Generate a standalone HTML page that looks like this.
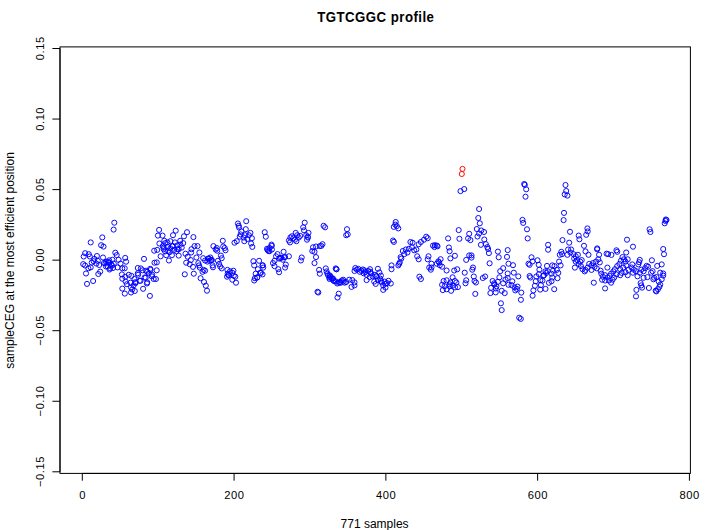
<!DOCTYPE html><html><head><meta charset="utf-8"><style>html,body{margin:0;padding:0;background:#fff;width:710px;height:530px;overflow:hidden}svg{display:block}text{font-family:"Liberation Sans",sans-serif;fill:#000}</style></head><body>
<svg width="710" height="530" viewBox="0 0 710 530">
<text transform="translate(375.8 21.9) scale(0.92 1)" font-size="14.4" font-weight="bold" letter-spacing="0.5" text-anchor="middle">TGTCGGC profile</text>
<rect x="60" y="46.9" width="630.4" height="426.5" fill="none" stroke="#000" stroke-width="1"/>
<path d="M60 48.50V471.80M52.4 48.50H60M52.4 119.05H60M52.4 189.60H60M52.4 260.15H60M52.4 330.70H60M52.4 401.25H60M52.4 471.80H60M82.30 473.4H689.42M82.30 473.4V480.7M234.08 473.4V480.7M385.86 473.4V480.7M537.64 473.4V480.7M689.42 473.4V480.7" stroke="#000" stroke-width="1" fill="none"/>
<text transform="translate(43.6 48.25) rotate(-90)" font-size="11.2" letter-spacing="0.5" text-anchor="middle">0.15</text>
<text transform="translate(43.6 118.80) rotate(-90)" font-size="11.2" letter-spacing="0.5" text-anchor="middle">0.10</text>
<text transform="translate(43.6 189.35) rotate(-90)" font-size="11.2" letter-spacing="0.5" text-anchor="middle">0.05</text>
<text transform="translate(43.6 259.90) rotate(-90)" font-size="11.2" letter-spacing="0.5" text-anchor="middle">0.00</text>
<text transform="translate(43.6 330.45) rotate(-90)" font-size="11.2" letter-spacing="0.5" text-anchor="middle">−0.05</text>
<text transform="translate(43.6 401.00) rotate(-90)" font-size="11.2" letter-spacing="0.5" text-anchor="middle">−0.10</text>
<text transform="translate(43.6 471.55) rotate(-90)" font-size="11.2" letter-spacing="0.5" text-anchor="middle">−0.15</text>
<text x="82.55" y="499" font-size="11.2" letter-spacing="0.5" text-anchor="middle">0</text>
<text x="234.33" y="499" font-size="11.2" letter-spacing="0.5" text-anchor="middle">200</text>
<text x="386.11" y="499" font-size="11.2" letter-spacing="0.5" text-anchor="middle">400</text>
<text x="537.89" y="499" font-size="11.2" letter-spacing="0.5" text-anchor="middle">600</text>
<text x="689.67" y="499" font-size="11.2" letter-spacing="0.5" text-anchor="middle">800</text>
<text x="374.6" y="528" font-size="12" text-anchor="middle">771 samples</text>
<text transform="translate(14 260.4) rotate(-90)" font-size="12" text-anchor="middle">sampleCEG at the most efficient position</text>
<path d="M114.3 222.7m-2.55 0a2.55 2.55 0 1 0 5.1 0a2.55 2.55 0 1 0 -5.1 0M113.6 229.6m-2.55 0a2.55 2.55 0 1 0 5.1 0a2.55 2.55 0 1 0 -5.1 0M102.3 237.4m-2.55 0a2.55 2.55 0 1 0 5.1 0a2.55 2.55 0 1 0 -5.1 0M90.7 242.4m-2.55 0a2.55 2.55 0 1 0 5.1 0a2.55 2.55 0 1 0 -5.1 0M101.1 245.2m-2.55 0a2.55 2.55 0 1 0 5.1 0a2.55 2.55 0 1 0 -5.1 0M103.5 246.6m-2.55 0a2.55 2.55 0 1 0 5.1 0a2.55 2.55 0 1 0 -5.1 0M85.1 253.2m-2.55 0a2.55 2.55 0 1 0 5.1 0a2.55 2.55 0 1 0 -5.1 0M83.7 256.5m-2.55 0a2.55 2.55 0 1 0 5.1 0a2.55 2.55 0 1 0 -5.1 0M88.8 254.2m-2.55 0a2.55 2.55 0 1 0 5.1 0a2.55 2.55 0 1 0 -5.1 0M89.8 256.5m-2.55 0a2.55 2.55 0 1 0 5.1 0a2.55 2.55 0 1 0 -5.1 0M96.9 256.0m-2.55 0a2.55 2.55 0 1 0 5.1 0a2.55 2.55 0 1 0 -5.1 0M94.5 258.9m-2.55 0a2.55 2.55 0 1 0 5.1 0a2.55 2.55 0 1 0 -5.1 0M93.6 261.2m-2.55 0a2.55 2.55 0 1 0 5.1 0a2.55 2.55 0 1 0 -5.1 0M103.0 257.5m-2.55 0a2.55 2.55 0 1 0 5.1 0a2.55 2.55 0 1 0 -5.1 0M115.3 252.7m-2.55 0a2.55 2.55 0 1 0 5.1 0a2.55 2.55 0 1 0 -5.1 0M116.7 255.1m-2.55 0a2.55 2.55 0 1 0 5.1 0a2.55 2.55 0 1 0 -5.1 0M112.4 259.8m-2.55 0a2.55 2.55 0 1 0 5.1 0a2.55 2.55 0 1 0 -5.1 0M109.1 260.3m-2.55 0a2.55 2.55 0 1 0 5.1 0a2.55 2.55 0 1 0 -5.1 0M83.2 264.1m-2.55 0a2.55 2.55 0 1 0 5.1 0a2.55 2.55 0 1 0 -5.1 0M85.1 265.5m-2.55 0a2.55 2.55 0 1 0 5.1 0a2.55 2.55 0 1 0 -5.1 0M88.4 268.3m-2.55 0a2.55 2.55 0 1 0 5.1 0a2.55 2.55 0 1 0 -5.1 0M90.7 267.4m-2.55 0a2.55 2.55 0 1 0 5.1 0a2.55 2.55 0 1 0 -5.1 0M91.7 262.6m-2.55 0a2.55 2.55 0 1 0 5.1 0a2.55 2.55 0 1 0 -5.1 0M96.4 263.6m-2.55 0a2.55 2.55 0 1 0 5.1 0a2.55 2.55 0 1 0 -5.1 0M99.2 265.0m-2.55 0a2.55 2.55 0 1 0 5.1 0a2.55 2.55 0 1 0 -5.1 0M97.8 260.8m-2.55 0a2.55 2.55 0 1 0 5.1 0a2.55 2.55 0 1 0 -5.1 0M86.0 273.5m-2.55 0a2.55 2.55 0 1 0 5.1 0a2.55 2.55 0 1 0 -5.1 0M100.2 271.6m-2.55 0a2.55 2.55 0 1 0 5.1 0a2.55 2.55 0 1 0 -5.1 0M98.3 274.0m-2.55 0a2.55 2.55 0 1 0 5.1 0a2.55 2.55 0 1 0 -5.1 0M105.4 263.6m-2.55 0a2.55 2.55 0 1 0 5.1 0a2.55 2.55 0 1 0 -5.1 0M107.7 266.4m-2.55 0a2.55 2.55 0 1 0 5.1 0a2.55 2.55 0 1 0 -5.1 0M110.1 268.3m-2.55 0a2.55 2.55 0 1 0 5.1 0a2.55 2.55 0 1 0 -5.1 0M112.0 265.5m-2.55 0a2.55 2.55 0 1 0 5.1 0a2.55 2.55 0 1 0 -5.1 0M113.8 263.6m-2.55 0a2.55 2.55 0 1 0 5.1 0a2.55 2.55 0 1 0 -5.1 0M109.1 262.6m-2.55 0a2.55 2.55 0 1 0 5.1 0a2.55 2.55 0 1 0 -5.1 0M106.3 261.7m-2.55 0a2.55 2.55 0 1 0 5.1 0a2.55 2.55 0 1 0 -5.1 0M118.6 259.8m-2.55 0a2.55 2.55 0 1 0 5.1 0a2.55 2.55 0 1 0 -5.1 0M120.5 263.6m-2.55 0a2.55 2.55 0 1 0 5.1 0a2.55 2.55 0 1 0 -5.1 0M117.6 267.4m-2.55 0a2.55 2.55 0 1 0 5.1 0a2.55 2.55 0 1 0 -5.1 0M122.3 268.3m-2.55 0a2.55 2.55 0 1 0 5.1 0a2.55 2.55 0 1 0 -5.1 0M125.2 257.9m-2.55 0a2.55 2.55 0 1 0 5.1 0a2.55 2.55 0 1 0 -5.1 0M126.1 261.7m-2.55 0a2.55 2.55 0 1 0 5.1 0a2.55 2.55 0 1 0 -5.1 0M124.7 268.3m-2.55 0a2.55 2.55 0 1 0 5.1 0a2.55 2.55 0 1 0 -5.1 0M121.9 274.4m-2.55 0a2.55 2.55 0 1 0 5.1 0a2.55 2.55 0 1 0 -5.1 0M122.3 278.7m-2.55 0a2.55 2.55 0 1 0 5.1 0a2.55 2.55 0 1 0 -5.1 0M125.2 276.8m-2.55 0a2.55 2.55 0 1 0 5.1 0a2.55 2.55 0 1 0 -5.1 0M125.6 281.5m-2.55 0a2.55 2.55 0 1 0 5.1 0a2.55 2.55 0 1 0 -5.1 0M87.0 283.9m-2.55 0a2.55 2.55 0 1 0 5.1 0a2.55 2.55 0 1 0 -5.1 0M93.1 281.0m-2.55 0a2.55 2.55 0 1 0 5.1 0a2.55 2.55 0 1 0 -5.1 0M122.3 288.6m-2.55 0a2.55 2.55 0 1 0 5.1 0a2.55 2.55 0 1 0 -5.1 0M144.0 258.9m-2.55 0a2.55 2.55 0 1 0 5.1 0a2.55 2.55 0 1 0 -5.1 0M159.1 229.9m-2.55 0a2.55 2.55 0 1 0 5.1 0a2.55 2.55 0 1 0 -5.1 0M157.9 235.6m-2.55 0a2.55 2.55 0 1 0 5.1 0a2.55 2.55 0 1 0 -5.1 0M162.5 235.6m-2.55 0a2.55 2.55 0 1 0 5.1 0a2.55 2.55 0 1 0 -5.1 0M164.3 240.8m-2.55 0a2.55 2.55 0 1 0 5.1 0a2.55 2.55 0 1 0 -5.1 0M159.4 243.5m-2.55 0a2.55 2.55 0 1 0 5.1 0a2.55 2.55 0 1 0 -5.1 0M154.2 250.7m-2.55 0a2.55 2.55 0 1 0 5.1 0a2.55 2.55 0 1 0 -5.1 0M157.2 249.9m-2.55 0a2.55 2.55 0 1 0 5.1 0a2.55 2.55 0 1 0 -5.1 0M160.6 256.3m-2.55 0a2.55 2.55 0 1 0 5.1 0a2.55 2.55 0 1 0 -5.1 0M168.9 260.5m-2.55 0a2.55 2.55 0 1 0 5.1 0a2.55 2.55 0 1 0 -5.1 0M178.7 255.6m-2.55 0a2.55 2.55 0 1 0 5.1 0a2.55 2.55 0 1 0 -5.1 0M175.7 230.7m-2.55 0a2.55 2.55 0 1 0 5.1 0a2.55 2.55 0 1 0 -5.1 0M173.0 235.2m-2.55 0a2.55 2.55 0 1 0 5.1 0a2.55 2.55 0 1 0 -5.1 0M170.4 241.2m-2.55 0a2.55 2.55 0 1 0 5.1 0a2.55 2.55 0 1 0 -5.1 0M172.6 246.1m-2.55 0a2.55 2.55 0 1 0 5.1 0a2.55 2.55 0 1 0 -5.1 0M167.4 246.9m-2.55 0a2.55 2.55 0 1 0 5.1 0a2.55 2.55 0 1 0 -5.1 0M165.1 251.4m-2.55 0a2.55 2.55 0 1 0 5.1 0a2.55 2.55 0 1 0 -5.1 0M169.6 252.2m-2.55 0a2.55 2.55 0 1 0 5.1 0a2.55 2.55 0 1 0 -5.1 0M174.2 249.9m-2.55 0a2.55 2.55 0 1 0 5.1 0a2.55 2.55 0 1 0 -5.1 0M180.2 240.8m-2.55 0a2.55 2.55 0 1 0 5.1 0a2.55 2.55 0 1 0 -5.1 0M183.2 243.1m-2.55 0a2.55 2.55 0 1 0 5.1 0a2.55 2.55 0 1 0 -5.1 0M181.7 247.6m-2.55 0a2.55 2.55 0 1 0 5.1 0a2.55 2.55 0 1 0 -5.1 0M177.2 245.4m-2.55 0a2.55 2.55 0 1 0 5.1 0a2.55 2.55 0 1 0 -5.1 0M184.0 236.3m-2.55 0a2.55 2.55 0 1 0 5.1 0a2.55 2.55 0 1 0 -5.1 0M187.0 232.2m-2.55 0a2.55 2.55 0 1 0 5.1 0a2.55 2.55 0 1 0 -5.1 0M185.5 253.7m-2.55 0a2.55 2.55 0 1 0 5.1 0a2.55 2.55 0 1 0 -5.1 0M187.7 256.7m-2.55 0a2.55 2.55 0 1 0 5.1 0a2.55 2.55 0 1 0 -5.1 0M186.2 262.7m-2.55 0a2.55 2.55 0 1 0 5.1 0a2.55 2.55 0 1 0 -5.1 0M154.5 262.7m-2.55 0a2.55 2.55 0 1 0 5.1 0a2.55 2.55 0 1 0 -5.1 0M156.8 262.4m-2.55 0a2.55 2.55 0 1 0 5.1 0a2.55 2.55 0 1 0 -5.1 0M166.2 255.2m-2.55 0a2.55 2.55 0 1 0 5.1 0a2.55 2.55 0 1 0 -5.1 0M171.9 255.2m-2.55 0a2.55 2.55 0 1 0 5.1 0a2.55 2.55 0 1 0 -5.1 0M162.8 246.1m-2.55 0a2.55 2.55 0 1 0 5.1 0a2.55 2.55 0 1 0 -5.1 0M178.7 249.2m-2.55 0a2.55 2.55 0 1 0 5.1 0a2.55 2.55 0 1 0 -5.1 0M167.4 242.4m-2.55 0a2.55 2.55 0 1 0 5.1 0a2.55 2.55 0 1 0 -5.1 0M174.9 242.4m-2.55 0a2.55 2.55 0 1 0 5.1 0a2.55 2.55 0 1 0 -5.1 0M170.4 248.4m-2.55 0a2.55 2.55 0 1 0 5.1 0a2.55 2.55 0 1 0 -5.1 0M176.4 251.4m-2.55 0a2.55 2.55 0 1 0 5.1 0a2.55 2.55 0 1 0 -5.1 0M163.6 249.2m-2.55 0a2.55 2.55 0 1 0 5.1 0a2.55 2.55 0 1 0 -5.1 0M137.8 268.0m-2.55 0a2.55 2.55 0 1 0 5.1 0a2.55 2.55 0 1 0 -5.1 0M140.8 268.4m-2.55 0a2.55 2.55 0 1 0 5.1 0a2.55 2.55 0 1 0 -5.1 0M146.1 270.7m-2.55 0a2.55 2.55 0 1 0 5.1 0a2.55 2.55 0 1 0 -5.1 0M150.6 269.9m-2.55 0a2.55 2.55 0 1 0 5.1 0a2.55 2.55 0 1 0 -5.1 0M148.8 273.3m-2.55 0a2.55 2.55 0 1 0 5.1 0a2.55 2.55 0 1 0 -5.1 0M156.7 270.3m-2.55 0a2.55 2.55 0 1 0 5.1 0a2.55 2.55 0 1 0 -5.1 0M137.8 273.3m-2.55 0a2.55 2.55 0 1 0 5.1 0a2.55 2.55 0 1 0 -5.1 0M131.4 275.9m-2.55 0a2.55 2.55 0 1 0 5.1 0a2.55 2.55 0 1 0 -5.1 0M134.4 279.0m-2.55 0a2.55 2.55 0 1 0 5.1 0a2.55 2.55 0 1 0 -5.1 0M144.6 277.5m-2.55 0a2.55 2.55 0 1 0 5.1 0a2.55 2.55 0 1 0 -5.1 0M140.5 280.8m-2.55 0a2.55 2.55 0 1 0 5.1 0a2.55 2.55 0 1 0 -5.1 0M135.5 283.1m-2.55 0a2.55 2.55 0 1 0 5.1 0a2.55 2.55 0 1 0 -5.1 0M130.6 282.7m-2.55 0a2.55 2.55 0 1 0 5.1 0a2.55 2.55 0 1 0 -5.1 0M146.9 283.5m-2.55 0a2.55 2.55 0 1 0 5.1 0a2.55 2.55 0 1 0 -5.1 0M153.7 279.0m-2.55 0a2.55 2.55 0 1 0 5.1 0a2.55 2.55 0 1 0 -5.1 0M155.9 279.0m-2.55 0a2.55 2.55 0 1 0 5.1 0a2.55 2.55 0 1 0 -5.1 0M152.2 274.8m-2.55 0a2.55 2.55 0 1 0 5.1 0a2.55 2.55 0 1 0 -5.1 0M143.1 288.8m-2.55 0a2.55 2.55 0 1 0 5.1 0a2.55 2.55 0 1 0 -5.1 0M132.2 289.5m-2.55 0a2.55 2.55 0 1 0 5.1 0a2.55 2.55 0 1 0 -5.1 0M134.8 291.0m-2.55 0a2.55 2.55 0 1 0 5.1 0a2.55 2.55 0 1 0 -5.1 0M131.0 292.5m-2.55 0a2.55 2.55 0 1 0 5.1 0a2.55 2.55 0 1 0 -5.1 0M149.9 295.9m-2.55 0a2.55 2.55 0 1 0 5.1 0a2.55 2.55 0 1 0 -5.1 0M128.8 274.8m-2.55 0a2.55 2.55 0 1 0 5.1 0a2.55 2.55 0 1 0 -5.1 0M189.7 264.2m-2.55 0a2.55 2.55 0 1 0 5.1 0a2.55 2.55 0 1 0 -5.1 0M184.8 274.3m-2.55 0a2.55 2.55 0 1 0 5.1 0a2.55 2.55 0 1 0 -5.1 0M124.8 293.6m-2.55 0a2.55 2.55 0 1 0 5.1 0a2.55 2.55 0 1 0 -5.1 0M193.4 237.1m-2.55 0a2.55 2.55 0 1 0 5.1 0a2.55 2.55 0 1 0 -5.1 0M222.8 240.8m-2.55 0a2.55 2.55 0 1 0 5.1 0a2.55 2.55 0 1 0 -5.1 0M194.5 246.1m-2.55 0a2.55 2.55 0 1 0 5.1 0a2.55 2.55 0 1 0 -5.1 0M197.5 246.1m-2.55 0a2.55 2.55 0 1 0 5.1 0a2.55 2.55 0 1 0 -5.1 0M191.1 252.5m-2.55 0a2.55 2.55 0 1 0 5.1 0a2.55 2.55 0 1 0 -5.1 0M191.5 249.2m-2.55 0a2.55 2.55 0 1 0 5.1 0a2.55 2.55 0 1 0 -5.1 0M199.4 252.5m-2.55 0a2.55 2.55 0 1 0 5.1 0a2.55 2.55 0 1 0 -5.1 0M196.4 257.5m-2.55 0a2.55 2.55 0 1 0 5.1 0a2.55 2.55 0 1 0 -5.1 0M203.2 258.2m-2.55 0a2.55 2.55 0 1 0 5.1 0a2.55 2.55 0 1 0 -5.1 0M205.1 260.5m-2.55 0a2.55 2.55 0 1 0 5.1 0a2.55 2.55 0 1 0 -5.1 0M208.1 258.6m-2.55 0a2.55 2.55 0 1 0 5.1 0a2.55 2.55 0 1 0 -5.1 0M210.4 257.5m-2.55 0a2.55 2.55 0 1 0 5.1 0a2.55 2.55 0 1 0 -5.1 0M211.9 260.1m-2.55 0a2.55 2.55 0 1 0 5.1 0a2.55 2.55 0 1 0 -5.1 0M207.4 261.6m-2.55 0a2.55 2.55 0 1 0 5.1 0a2.55 2.55 0 1 0 -5.1 0M209.6 260.8m-2.55 0a2.55 2.55 0 1 0 5.1 0a2.55 2.55 0 1 0 -5.1 0M212.6 265.4m-2.55 0a2.55 2.55 0 1 0 5.1 0a2.55 2.55 0 1 0 -5.1 0M213.0 267.3m-2.55 0a2.55 2.55 0 1 0 5.1 0a2.55 2.55 0 1 0 -5.1 0M215.7 249.5m-2.55 0a2.55 2.55 0 1 0 5.1 0a2.55 2.55 0 1 0 -5.1 0M217.2 250.7m-2.55 0a2.55 2.55 0 1 0 5.1 0a2.55 2.55 0 1 0 -5.1 0M216.8 248.0m-2.55 0a2.55 2.55 0 1 0 5.1 0a2.55 2.55 0 1 0 -5.1 0M213.4 246.1m-2.55 0a2.55 2.55 0 1 0 5.1 0a2.55 2.55 0 1 0 -5.1 0M224.7 248.0m-2.55 0a2.55 2.55 0 1 0 5.1 0a2.55 2.55 0 1 0 -5.1 0M225.5 250.3m-2.55 0a2.55 2.55 0 1 0 5.1 0a2.55 2.55 0 1 0 -5.1 0M223.2 246.5m-2.55 0a2.55 2.55 0 1 0 5.1 0a2.55 2.55 0 1 0 -5.1 0M220.9 255.6m-2.55 0a2.55 2.55 0 1 0 5.1 0a2.55 2.55 0 1 0 -5.1 0M221.7 258.2m-2.55 0a2.55 2.55 0 1 0 5.1 0a2.55 2.55 0 1 0 -5.1 0M217.9 260.8m-2.55 0a2.55 2.55 0 1 0 5.1 0a2.55 2.55 0 1 0 -5.1 0M219.1 263.9m-2.55 0a2.55 2.55 0 1 0 5.1 0a2.55 2.55 0 1 0 -5.1 0M220.2 266.5m-2.55 0a2.55 2.55 0 1 0 5.1 0a2.55 2.55 0 1 0 -5.1 0M221.7 268.4m-2.55 0a2.55 2.55 0 1 0 5.1 0a2.55 2.55 0 1 0 -5.1 0M227.4 269.9m-2.55 0a2.55 2.55 0 1 0 5.1 0a2.55 2.55 0 1 0 -5.1 0M227.7 273.7m-2.55 0a2.55 2.55 0 1 0 5.1 0a2.55 2.55 0 1 0 -5.1 0M227.0 276.7m-2.55 0a2.55 2.55 0 1 0 5.1 0a2.55 2.55 0 1 0 -5.1 0M228.5 275.2m-2.55 0a2.55 2.55 0 1 0 5.1 0a2.55 2.55 0 1 0 -5.1 0M198.3 263.1m-2.55 0a2.55 2.55 0 1 0 5.1 0a2.55 2.55 0 1 0 -5.1 0M199.1 265.4m-2.55 0a2.55 2.55 0 1 0 5.1 0a2.55 2.55 0 1 0 -5.1 0M199.8 267.6m-2.55 0a2.55 2.55 0 1 0 5.1 0a2.55 2.55 0 1 0 -5.1 0M193.0 266.9m-2.55 0a2.55 2.55 0 1 0 5.1 0a2.55 2.55 0 1 0 -5.1 0M203.6 269.9m-2.55 0a2.55 2.55 0 1 0 5.1 0a2.55 2.55 0 1 0 -5.1 0M202.5 271.8m-2.55 0a2.55 2.55 0 1 0 5.1 0a2.55 2.55 0 1 0 -5.1 0M205.1 270.7m-2.55 0a2.55 2.55 0 1 0 5.1 0a2.55 2.55 0 1 0 -5.1 0M193.8 273.7m-2.55 0a2.55 2.55 0 1 0 5.1 0a2.55 2.55 0 1 0 -5.1 0M200.6 278.2m-2.55 0a2.55 2.55 0 1 0 5.1 0a2.55 2.55 0 1 0 -5.1 0M204.0 282.0m-2.55 0a2.55 2.55 0 1 0 5.1 0a2.55 2.55 0 1 0 -5.1 0M190.8 260.1m-2.55 0a2.55 2.55 0 1 0 5.1 0a2.55 2.55 0 1 0 -5.1 0M207.0 290.7m-2.55 0a2.55 2.55 0 1 0 5.1 0a2.55 2.55 0 1 0 -5.1 0M246.2 221.2m-2.55 0a2.55 2.55 0 1 0 5.1 0a2.55 2.55 0 1 0 -5.1 0M237.9 223.5m-2.55 0a2.55 2.55 0 1 0 5.1 0a2.55 2.55 0 1 0 -5.1 0M238.7 225.8m-2.55 0a2.55 2.55 0 1 0 5.1 0a2.55 2.55 0 1 0 -5.1 0M239.1 227.6m-2.55 0a2.55 2.55 0 1 0 5.1 0a2.55 2.55 0 1 0 -5.1 0M245.8 229.2m-2.55 0a2.55 2.55 0 1 0 5.1 0a2.55 2.55 0 1 0 -5.1 0M241.3 231.4m-2.55 0a2.55 2.55 0 1 0 5.1 0a2.55 2.55 0 1 0 -5.1 0M240.6 234.4m-2.55 0a2.55 2.55 0 1 0 5.1 0a2.55 2.55 0 1 0 -5.1 0M250.4 232.9m-2.55 0a2.55 2.55 0 1 0 5.1 0a2.55 2.55 0 1 0 -5.1 0M248.9 235.2m-2.55 0a2.55 2.55 0 1 0 5.1 0a2.55 2.55 0 1 0 -5.1 0M251.9 238.2m-2.55 0a2.55 2.55 0 1 0 5.1 0a2.55 2.55 0 1 0 -5.1 0M245.1 235.2m-2.55 0a2.55 2.55 0 1 0 5.1 0a2.55 2.55 0 1 0 -5.1 0M243.6 237.5m-2.55 0a2.55 2.55 0 1 0 5.1 0a2.55 2.55 0 1 0 -5.1 0M239.8 236.7m-2.55 0a2.55 2.55 0 1 0 5.1 0a2.55 2.55 0 1 0 -5.1 0M236.8 241.2m-2.55 0a2.55 2.55 0 1 0 5.1 0a2.55 2.55 0 1 0 -5.1 0M234.5 242.7m-2.55 0a2.55 2.55 0 1 0 5.1 0a2.55 2.55 0 1 0 -5.1 0M244.3 241.2m-2.55 0a2.55 2.55 0 1 0 5.1 0a2.55 2.55 0 1 0 -5.1 0M247.4 239.0m-2.55 0a2.55 2.55 0 1 0 5.1 0a2.55 2.55 0 1 0 -5.1 0M264.7 232.2m-2.55 0a2.55 2.55 0 1 0 5.1 0a2.55 2.55 0 1 0 -5.1 0M265.8 236.7m-2.55 0a2.55 2.55 0 1 0 5.1 0a2.55 2.55 0 1 0 -5.1 0M251.1 243.5m-2.55 0a2.55 2.55 0 1 0 5.1 0a2.55 2.55 0 1 0 -5.1 0M252.3 246.9m-2.55 0a2.55 2.55 0 1 0 5.1 0a2.55 2.55 0 1 0 -5.1 0M267.0 248.8m-2.55 0a2.55 2.55 0 1 0 5.1 0a2.55 2.55 0 1 0 -5.1 0M268.5 251.0m-2.55 0a2.55 2.55 0 1 0 5.1 0a2.55 2.55 0 1 0 -5.1 0M253.4 261.2m-2.55 0a2.55 2.55 0 1 0 5.1 0a2.55 2.55 0 1 0 -5.1 0M259.1 260.8m-2.55 0a2.55 2.55 0 1 0 5.1 0a2.55 2.55 0 1 0 -5.1 0M262.8 265.4m-2.55 0a2.55 2.55 0 1 0 5.1 0a2.55 2.55 0 1 0 -5.1 0M254.2 265.4m-2.55 0a2.55 2.55 0 1 0 5.1 0a2.55 2.55 0 1 0 -5.1 0M263.2 267.6m-2.55 0a2.55 2.55 0 1 0 5.1 0a2.55 2.55 0 1 0 -5.1 0M257.9 269.2m-2.55 0a2.55 2.55 0 1 0 5.1 0a2.55 2.55 0 1 0 -5.1 0M255.7 273.7m-2.55 0a2.55 2.55 0 1 0 5.1 0a2.55 2.55 0 1 0 -5.1 0M260.9 272.9m-2.55 0a2.55 2.55 0 1 0 5.1 0a2.55 2.55 0 1 0 -5.1 0M262.5 274.4m-2.55 0a2.55 2.55 0 1 0 5.1 0a2.55 2.55 0 1 0 -5.1 0M254.9 278.2m-2.55 0a2.55 2.55 0 1 0 5.1 0a2.55 2.55 0 1 0 -5.1 0M257.2 277.5m-2.55 0a2.55 2.55 0 1 0 5.1 0a2.55 2.55 0 1 0 -5.1 0M254.2 280.5m-2.55 0a2.55 2.55 0 1 0 5.1 0a2.55 2.55 0 1 0 -5.1 0M233.4 270.7m-2.55 0a2.55 2.55 0 1 0 5.1 0a2.55 2.55 0 1 0 -5.1 0M235.3 276.7m-2.55 0a2.55 2.55 0 1 0 5.1 0a2.55 2.55 0 1 0 -5.1 0M236.0 282.7m-2.55 0a2.55 2.55 0 1 0 5.1 0a2.55 2.55 0 1 0 -5.1 0M232.3 279.7m-2.55 0a2.55 2.55 0 1 0 5.1 0a2.55 2.55 0 1 0 -5.1 0M304.7 222.7m-2.55 0a2.55 2.55 0 1 0 5.1 0a2.55 2.55 0 1 0 -5.1 0M303.2 227.3m-2.55 0a2.55 2.55 0 1 0 5.1 0a2.55 2.55 0 1 0 -5.1 0M304.0 230.3m-2.55 0a2.55 2.55 0 1 0 5.1 0a2.55 2.55 0 1 0 -5.1 0M295.7 232.9m-2.55 0a2.55 2.55 0 1 0 5.1 0a2.55 2.55 0 1 0 -5.1 0M297.2 235.2m-2.55 0a2.55 2.55 0 1 0 5.1 0a2.55 2.55 0 1 0 -5.1 0M291.9 236.3m-2.55 0a2.55 2.55 0 1 0 5.1 0a2.55 2.55 0 1 0 -5.1 0M293.4 238.2m-2.55 0a2.55 2.55 0 1 0 5.1 0a2.55 2.55 0 1 0 -5.1 0M290.4 237.5m-2.55 0a2.55 2.55 0 1 0 5.1 0a2.55 2.55 0 1 0 -5.1 0M288.9 240.5m-2.55 0a2.55 2.55 0 1 0 5.1 0a2.55 2.55 0 1 0 -5.1 0M290.0 242.4m-2.55 0a2.55 2.55 0 1 0 5.1 0a2.55 2.55 0 1 0 -5.1 0M298.7 237.5m-2.55 0a2.55 2.55 0 1 0 5.1 0a2.55 2.55 0 1 0 -5.1 0M300.2 235.9m-2.55 0a2.55 2.55 0 1 0 5.1 0a2.55 2.55 0 1 0 -5.1 0M294.9 239.7m-2.55 0a2.55 2.55 0 1 0 5.1 0a2.55 2.55 0 1 0 -5.1 0M296.4 241.2m-2.55 0a2.55 2.55 0 1 0 5.1 0a2.55 2.55 0 1 0 -5.1 0M306.2 235.2m-2.55 0a2.55 2.55 0 1 0 5.1 0a2.55 2.55 0 1 0 -5.1 0M307.7 236.7m-2.55 0a2.55 2.55 0 1 0 5.1 0a2.55 2.55 0 1 0 -5.1 0M308.5 232.9m-2.55 0a2.55 2.55 0 1 0 5.1 0a2.55 2.55 0 1 0 -5.1 0M307.0 239.7m-2.55 0a2.55 2.55 0 1 0 5.1 0a2.55 2.55 0 1 0 -5.1 0M271.5 244.6m-2.55 0a2.55 2.55 0 1 0 5.1 0a2.55 2.55 0 1 0 -5.1 0M271.9 249.5m-2.55 0a2.55 2.55 0 1 0 5.1 0a2.55 2.55 0 1 0 -5.1 0M283.6 251.8m-2.55 0a2.55 2.55 0 1 0 5.1 0a2.55 2.55 0 1 0 -5.1 0M277.5 254.1m-2.55 0a2.55 2.55 0 1 0 5.1 0a2.55 2.55 0 1 0 -5.1 0M276.0 256.3m-2.55 0a2.55 2.55 0 1 0 5.1 0a2.55 2.55 0 1 0 -5.1 0M281.3 257.8m-2.55 0a2.55 2.55 0 1 0 5.1 0a2.55 2.55 0 1 0 -5.1 0M285.1 257.1m-2.55 0a2.55 2.55 0 1 0 5.1 0a2.55 2.55 0 1 0 -5.1 0M288.9 256.3m-2.55 0a2.55 2.55 0 1 0 5.1 0a2.55 2.55 0 1 0 -5.1 0M282.8 259.7m-2.55 0a2.55 2.55 0 1 0 5.1 0a2.55 2.55 0 1 0 -5.1 0M279.1 258.6m-2.55 0a2.55 2.55 0 1 0 5.1 0a2.55 2.55 0 1 0 -5.1 0M274.5 260.8m-2.55 0a2.55 2.55 0 1 0 5.1 0a2.55 2.55 0 1 0 -5.1 0M273.0 263.1m-2.55 0a2.55 2.55 0 1 0 5.1 0a2.55 2.55 0 1 0 -5.1 0M274.5 266.1m-2.55 0a2.55 2.55 0 1 0 5.1 0a2.55 2.55 0 1 0 -5.1 0M278.3 269.2m-2.55 0a2.55 2.55 0 1 0 5.1 0a2.55 2.55 0 1 0 -5.1 0M279.1 272.2m-2.55 0a2.55 2.55 0 1 0 5.1 0a2.55 2.55 0 1 0 -5.1 0M285.8 264.6m-2.55 0a2.55 2.55 0 1 0 5.1 0a2.55 2.55 0 1 0 -5.1 0M285.1 267.6m-2.55 0a2.55 2.55 0 1 0 5.1 0a2.55 2.55 0 1 0 -5.1 0M301.7 257.5m-2.55 0a2.55 2.55 0 1 0 5.1 0a2.55 2.55 0 1 0 -5.1 0M300.9 260.5m-2.55 0a2.55 2.55 0 1 0 5.1 0a2.55 2.55 0 1 0 -5.1 0M323.6 225.8m-2.55 0a2.55 2.55 0 1 0 5.1 0a2.55 2.55 0 1 0 -5.1 0M325.1 227.3m-2.55 0a2.55 2.55 0 1 0 5.1 0a2.55 2.55 0 1 0 -5.1 0M347.0 229.2m-2.55 0a2.55 2.55 0 1 0 5.1 0a2.55 2.55 0 1 0 -5.1 0M346.2 235.2m-2.55 0a2.55 2.55 0 1 0 5.1 0a2.55 2.55 0 1 0 -5.1 0M347.7 234.4m-2.55 0a2.55 2.55 0 1 0 5.1 0a2.55 2.55 0 1 0 -5.1 0M322.5 244.2m-2.55 0a2.55 2.55 0 1 0 5.1 0a2.55 2.55 0 1 0 -5.1 0M313.0 247.3m-2.55 0a2.55 2.55 0 1 0 5.1 0a2.55 2.55 0 1 0 -5.1 0M316.0 246.5m-2.55 0a2.55 2.55 0 1 0 5.1 0a2.55 2.55 0 1 0 -5.1 0M319.8 246.1m-2.55 0a2.55 2.55 0 1 0 5.1 0a2.55 2.55 0 1 0 -5.1 0M312.3 251.0m-2.55 0a2.55 2.55 0 1 0 5.1 0a2.55 2.55 0 1 0 -5.1 0M314.5 251.8m-2.55 0a2.55 2.55 0 1 0 5.1 0a2.55 2.55 0 1 0 -5.1 0M316.0 257.1m-2.55 0a2.55 2.55 0 1 0 5.1 0a2.55 2.55 0 1 0 -5.1 0M314.5 263.1m-2.55 0a2.55 2.55 0 1 0 5.1 0a2.55 2.55 0 1 0 -5.1 0M319.1 269.9m-2.55 0a2.55 2.55 0 1 0 5.1 0a2.55 2.55 0 1 0 -5.1 0M319.8 273.7m-2.55 0a2.55 2.55 0 1 0 5.1 0a2.55 2.55 0 1 0 -5.1 0M325.8 268.4m-2.55 0a2.55 2.55 0 1 0 5.1 0a2.55 2.55 0 1 0 -5.1 0M326.6 271.4m-2.55 0a2.55 2.55 0 1 0 5.1 0a2.55 2.55 0 1 0 -5.1 0M335.7 268.4m-2.55 0a2.55 2.55 0 1 0 5.1 0a2.55 2.55 0 1 0 -5.1 0M336.4 269.2m-2.55 0a2.55 2.55 0 1 0 5.1 0a2.55 2.55 0 1 0 -5.1 0M328.1 275.2m-2.55 0a2.55 2.55 0 1 0 5.1 0a2.55 2.55 0 1 0 -5.1 0M330.4 276.7m-2.55 0a2.55 2.55 0 1 0 5.1 0a2.55 2.55 0 1 0 -5.1 0M332.6 279.0m-2.55 0a2.55 2.55 0 1 0 5.1 0a2.55 2.55 0 1 0 -5.1 0M334.2 281.2m-2.55 0a2.55 2.55 0 1 0 5.1 0a2.55 2.55 0 1 0 -5.1 0M329.6 279.0m-2.55 0a2.55 2.55 0 1 0 5.1 0a2.55 2.55 0 1 0 -5.1 0M343.2 279.7m-2.55 0a2.55 2.55 0 1 0 5.1 0a2.55 2.55 0 1 0 -5.1 0M340.2 282.0m-2.55 0a2.55 2.55 0 1 0 5.1 0a2.55 2.55 0 1 0 -5.1 0M346.2 282.0m-2.55 0a2.55 2.55 0 1 0 5.1 0a2.55 2.55 0 1 0 -5.1 0M349.2 279.7m-2.55 0a2.55 2.55 0 1 0 5.1 0a2.55 2.55 0 1 0 -5.1 0M337.2 283.5m-2.55 0a2.55 2.55 0 1 0 5.1 0a2.55 2.55 0 1 0 -5.1 0M327.4 273.7m-2.55 0a2.55 2.55 0 1 0 5.1 0a2.55 2.55 0 1 0 -5.1 0M329.2 277.5m-2.55 0a2.55 2.55 0 1 0 5.1 0a2.55 2.55 0 1 0 -5.1 0M331.5 278.2m-2.55 0a2.55 2.55 0 1 0 5.1 0a2.55 2.55 0 1 0 -5.1 0M333.4 280.5m-2.55 0a2.55 2.55 0 1 0 5.1 0a2.55 2.55 0 1 0 -5.1 0M341.7 280.5m-2.55 0a2.55 2.55 0 1 0 5.1 0a2.55 2.55 0 1 0 -5.1 0M344.7 282.7m-2.55 0a2.55 2.55 0 1 0 5.1 0a2.55 2.55 0 1 0 -5.1 0M338.7 282.7m-2.55 0a2.55 2.55 0 1 0 5.1 0a2.55 2.55 0 1 0 -5.1 0M317.5 291.8m-2.55 0a2.55 2.55 0 1 0 5.1 0a2.55 2.55 0 1 0 -5.1 0M318.3 292.5m-2.55 0a2.55 2.55 0 1 0 5.1 0a2.55 2.55 0 1 0 -5.1 0M338.7 293.7m-2.55 0a2.55 2.55 0 1 0 5.1 0a2.55 2.55 0 1 0 -5.1 0M337.5 297.5m-2.55 0a2.55 2.55 0 1 0 5.1 0a2.55 2.55 0 1 0 -5.1 0M355.3 268.0m-2.55 0a2.55 2.55 0 1 0 5.1 0a2.55 2.55 0 1 0 -5.1 0M354.5 271.0m-2.55 0a2.55 2.55 0 1 0 5.1 0a2.55 2.55 0 1 0 -5.1 0M358.3 268.8m-2.55 0a2.55 2.55 0 1 0 5.1 0a2.55 2.55 0 1 0 -5.1 0M359.8 271.8m-2.55 0a2.55 2.55 0 1 0 5.1 0a2.55 2.55 0 1 0 -5.1 0M362.8 269.5m-2.55 0a2.55 2.55 0 1 0 5.1 0a2.55 2.55 0 1 0 -5.1 0M363.6 273.3m-2.55 0a2.55 2.55 0 1 0 5.1 0a2.55 2.55 0 1 0 -5.1 0M366.6 274.8m-2.55 0a2.55 2.55 0 1 0 5.1 0a2.55 2.55 0 1 0 -5.1 0M368.1 271.0m-2.55 0a2.55 2.55 0 1 0 5.1 0a2.55 2.55 0 1 0 -5.1 0M370.0 269.2m-2.55 0a2.55 2.55 0 1 0 5.1 0a2.55 2.55 0 1 0 -5.1 0M371.1 273.3m-2.55 0a2.55 2.55 0 1 0 5.1 0a2.55 2.55 0 1 0 -5.1 0M372.6 276.3m-2.55 0a2.55 2.55 0 1 0 5.1 0a2.55 2.55 0 1 0 -5.1 0M369.6 277.1m-2.55 0a2.55 2.55 0 1 0 5.1 0a2.55 2.55 0 1 0 -5.1 0M366.6 280.1m-2.55 0a2.55 2.55 0 1 0 5.1 0a2.55 2.55 0 1 0 -5.1 0M374.2 281.6m-2.55 0a2.55 2.55 0 1 0 5.1 0a2.55 2.55 0 1 0 -5.1 0M375.7 283.9m-2.55 0a2.55 2.55 0 1 0 5.1 0a2.55 2.55 0 1 0 -5.1 0M377.9 268.8m-2.55 0a2.55 2.55 0 1 0 5.1 0a2.55 2.55 0 1 0 -5.1 0M379.4 272.5m-2.55 0a2.55 2.55 0 1 0 5.1 0a2.55 2.55 0 1 0 -5.1 0M376.4 276.3m-2.55 0a2.55 2.55 0 1 0 5.1 0a2.55 2.55 0 1 0 -5.1 0M380.2 278.6m-2.55 0a2.55 2.55 0 1 0 5.1 0a2.55 2.55 0 1 0 -5.1 0M381.7 282.4m-2.55 0a2.55 2.55 0 1 0 5.1 0a2.55 2.55 0 1 0 -5.1 0M383.2 285.4m-2.55 0a2.55 2.55 0 1 0 5.1 0a2.55 2.55 0 1 0 -5.1 0M384.7 281.6m-2.55 0a2.55 2.55 0 1 0 5.1 0a2.55 2.55 0 1 0 -5.1 0M387.0 283.1m-2.55 0a2.55 2.55 0 1 0 5.1 0a2.55 2.55 0 1 0 -5.1 0M388.5 280.8m-2.55 0a2.55 2.55 0 1 0 5.1 0a2.55 2.55 0 1 0 -5.1 0M383.2 289.9m-2.55 0a2.55 2.55 0 1 0 5.1 0a2.55 2.55 0 1 0 -5.1 0M385.5 287.6m-2.55 0a2.55 2.55 0 1 0 5.1 0a2.55 2.55 0 1 0 -5.1 0M352.3 280.1m-2.55 0a2.55 2.55 0 1 0 5.1 0a2.55 2.55 0 1 0 -5.1 0M354.5 282.4m-2.55 0a2.55 2.55 0 1 0 5.1 0a2.55 2.55 0 1 0 -5.1 0M354.5 285.4m-2.55 0a2.55 2.55 0 1 0 5.1 0a2.55 2.55 0 1 0 -5.1 0M351.5 286.9m-2.55 0a2.55 2.55 0 1 0 5.1 0a2.55 2.55 0 1 0 -5.1 0M356.8 269.5m-2.55 0a2.55 2.55 0 1 0 5.1 0a2.55 2.55 0 1 0 -5.1 0M361.3 270.7m-2.55 0a2.55 2.55 0 1 0 5.1 0a2.55 2.55 0 1 0 -5.1 0M365.1 272.2m-2.55 0a2.55 2.55 0 1 0 5.1 0a2.55 2.55 0 1 0 -5.1 0M374.9 274.8m-2.55 0a2.55 2.55 0 1 0 5.1 0a2.55 2.55 0 1 0 -5.1 0M377.9 280.1m-2.55 0a2.55 2.55 0 1 0 5.1 0a2.55 2.55 0 1 0 -5.1 0M380.9 275.6m-2.55 0a2.55 2.55 0 1 0 5.1 0a2.55 2.55 0 1 0 -5.1 0M395.7 222.0m-2.55 0a2.55 2.55 0 1 0 5.1 0a2.55 2.55 0 1 0 -5.1 0M395.3 224.6m-2.55 0a2.55 2.55 0 1 0 5.1 0a2.55 2.55 0 1 0 -5.1 0M393.8 226.9m-2.55 0a2.55 2.55 0 1 0 5.1 0a2.55 2.55 0 1 0 -5.1 0M398.3 228.4m-2.55 0a2.55 2.55 0 1 0 5.1 0a2.55 2.55 0 1 0 -5.1 0M396.8 226.1m-2.55 0a2.55 2.55 0 1 0 5.1 0a2.55 2.55 0 1 0 -5.1 0M393.0 240.5m-2.55 0a2.55 2.55 0 1 0 5.1 0a2.55 2.55 0 1 0 -5.1 0M410.4 242.0m-2.55 0a2.55 2.55 0 1 0 5.1 0a2.55 2.55 0 1 0 -5.1 0M412.6 242.7m-2.55 0a2.55 2.55 0 1 0 5.1 0a2.55 2.55 0 1 0 -5.1 0M420.9 242.0m-2.55 0a2.55 2.55 0 1 0 5.1 0a2.55 2.55 0 1 0 -5.1 0M424.0 239.7m-2.55 0a2.55 2.55 0 1 0 5.1 0a2.55 2.55 0 1 0 -5.1 0M426.2 236.7m-2.55 0a2.55 2.55 0 1 0 5.1 0a2.55 2.55 0 1 0 -5.1 0M427.7 238.2m-2.55 0a2.55 2.55 0 1 0 5.1 0a2.55 2.55 0 1 0 -5.1 0M418.7 244.2m-2.55 0a2.55 2.55 0 1 0 5.1 0a2.55 2.55 0 1 0 -5.1 0M402.8 251.0m-2.55 0a2.55 2.55 0 1 0 5.1 0a2.55 2.55 0 1 0 -5.1 0M405.8 249.5m-2.55 0a2.55 2.55 0 1 0 5.1 0a2.55 2.55 0 1 0 -5.1 0M408.9 248.8m-2.55 0a2.55 2.55 0 1 0 5.1 0a2.55 2.55 0 1 0 -5.1 0M411.9 247.3m-2.55 0a2.55 2.55 0 1 0 5.1 0a2.55 2.55 0 1 0 -5.1 0M414.2 250.3m-2.55 0a2.55 2.55 0 1 0 5.1 0a2.55 2.55 0 1 0 -5.1 0M416.4 249.5m-2.55 0a2.55 2.55 0 1 0 5.1 0a2.55 2.55 0 1 0 -5.1 0M407.4 252.5m-2.55 0a2.55 2.55 0 1 0 5.1 0a2.55 2.55 0 1 0 -5.1 0M404.3 254.1m-2.55 0a2.55 2.55 0 1 0 5.1 0a2.55 2.55 0 1 0 -5.1 0M401.3 258.6m-2.55 0a2.55 2.55 0 1 0 5.1 0a2.55 2.55 0 1 0 -5.1 0M400.6 257.1m-2.55 0a2.55 2.55 0 1 0 5.1 0a2.55 2.55 0 1 0 -5.1 0M399.1 263.9m-2.55 0a2.55 2.55 0 1 0 5.1 0a2.55 2.55 0 1 0 -5.1 0M398.3 265.4m-2.55 0a2.55 2.55 0 1 0 5.1 0a2.55 2.55 0 1 0 -5.1 0M399.8 262.4m-2.55 0a2.55 2.55 0 1 0 5.1 0a2.55 2.55 0 1 0 -5.1 0M417.2 256.3m-2.55 0a2.55 2.55 0 1 0 5.1 0a2.55 2.55 0 1 0 -5.1 0M418.7 259.3m-2.55 0a2.55 2.55 0 1 0 5.1 0a2.55 2.55 0 1 0 -5.1 0M428.5 256.3m-2.55 0a2.55 2.55 0 1 0 5.1 0a2.55 2.55 0 1 0 -5.1 0M427.7 259.3m-2.55 0a2.55 2.55 0 1 0 5.1 0a2.55 2.55 0 1 0 -5.1 0M429.2 267.6m-2.55 0a2.55 2.55 0 1 0 5.1 0a2.55 2.55 0 1 0 -5.1 0M419.4 276.7m-2.55 0a2.55 2.55 0 1 0 5.1 0a2.55 2.55 0 1 0 -5.1 0M420.9 279.0m-2.55 0a2.55 2.55 0 1 0 5.1 0a2.55 2.55 0 1 0 -5.1 0M391.5 265.4m-2.55 0a2.55 2.55 0 1 0 5.1 0a2.55 2.55 0 1 0 -5.1 0M391.5 269.2m-2.55 0a2.55 2.55 0 1 0 5.1 0a2.55 2.55 0 1 0 -5.1 0M390.8 283.5m-2.55 0a2.55 2.55 0 1 0 5.1 0a2.55 2.55 0 1 0 -5.1 0M460.5 191.1m-2.55 0a2.55 2.55 0 1 0 5.1 0a2.55 2.55 0 1 0 -5.1 0M464.2 189.1m-2.55 0a2.55 2.55 0 1 0 5.1 0a2.55 2.55 0 1 0 -5.1 0M458.7 230.1m-2.55 0a2.55 2.55 0 1 0 5.1 0a2.55 2.55 0 1 0 -5.1 0M448.1 238.4m-2.55 0a2.55 2.55 0 1 0 5.1 0a2.55 2.55 0 1 0 -5.1 0M459.4 238.8m-2.55 0a2.55 2.55 0 1 0 5.1 0a2.55 2.55 0 1 0 -5.1 0M468.1 238.4m-2.55 0a2.55 2.55 0 1 0 5.1 0a2.55 2.55 0 1 0 -5.1 0M433.0 245.6m-2.55 0a2.55 2.55 0 1 0 5.1 0a2.55 2.55 0 1 0 -5.1 0M434.9 245.2m-2.55 0a2.55 2.55 0 1 0 5.1 0a2.55 2.55 0 1 0 -5.1 0M436.8 245.6m-2.55 0a2.55 2.55 0 1 0 5.1 0a2.55 2.55 0 1 0 -5.1 0M434.5 247.1m-2.55 0a2.55 2.55 0 1 0 5.1 0a2.55 2.55 0 1 0 -5.1 0M437.5 246.3m-2.55 0a2.55 2.55 0 1 0 5.1 0a2.55 2.55 0 1 0 -5.1 0M448.9 247.5m-2.55 0a2.55 2.55 0 1 0 5.1 0a2.55 2.55 0 1 0 -5.1 0M449.6 251.2m-2.55 0a2.55 2.55 0 1 0 5.1 0a2.55 2.55 0 1 0 -5.1 0M450.4 258.4m-2.55 0a2.55 2.55 0 1 0 5.1 0a2.55 2.55 0 1 0 -5.1 0M454.9 255.8m-2.55 0a2.55 2.55 0 1 0 5.1 0a2.55 2.55 0 1 0 -5.1 0M466.2 259.9m-2.55 0a2.55 2.55 0 1 0 5.1 0a2.55 2.55 0 1 0 -5.1 0M469.2 255.4m-2.55 0a2.55 2.55 0 1 0 5.1 0a2.55 2.55 0 1 0 -5.1 0M440.6 259.2m-2.55 0a2.55 2.55 0 1 0 5.1 0a2.55 2.55 0 1 0 -5.1 0M438.3 261.4m-2.55 0a2.55 2.55 0 1 0 5.1 0a2.55 2.55 0 1 0 -5.1 0M436.8 263.7m-2.55 0a2.55 2.55 0 1 0 5.1 0a2.55 2.55 0 1 0 -5.1 0M439.8 265.2m-2.55 0a2.55 2.55 0 1 0 5.1 0a2.55 2.55 0 1 0 -5.1 0M442.1 266.7m-2.55 0a2.55 2.55 0 1 0 5.1 0a2.55 2.55 0 1 0 -5.1 0M439.1 262.2m-2.55 0a2.55 2.55 0 1 0 5.1 0a2.55 2.55 0 1 0 -5.1 0M431.5 263.7m-2.55 0a2.55 2.55 0 1 0 5.1 0a2.55 2.55 0 1 0 -5.1 0M431.5 267.5m-2.55 0a2.55 2.55 0 1 0 5.1 0a2.55 2.55 0 1 0 -5.1 0M430.8 269.7m-2.55 0a2.55 2.55 0 1 0 5.1 0a2.55 2.55 0 1 0 -5.1 0M446.6 270.5m-2.55 0a2.55 2.55 0 1 0 5.1 0a2.55 2.55 0 1 0 -5.1 0M454.2 270.5m-2.55 0a2.55 2.55 0 1 0 5.1 0a2.55 2.55 0 1 0 -5.1 0M457.2 269.3m-2.55 0a2.55 2.55 0 1 0 5.1 0a2.55 2.55 0 1 0 -5.1 0M464.7 272.7m-2.55 0a2.55 2.55 0 1 0 5.1 0a2.55 2.55 0 1 0 -5.1 0M452.6 277.3m-2.55 0a2.55 2.55 0 1 0 5.1 0a2.55 2.55 0 1 0 -5.1 0M466.2 280.3m-2.55 0a2.55 2.55 0 1 0 5.1 0a2.55 2.55 0 1 0 -5.1 0M465.5 283.3m-2.55 0a2.55 2.55 0 1 0 5.1 0a2.55 2.55 0 1 0 -5.1 0M443.6 281.0m-2.55 0a2.55 2.55 0 1 0 5.1 0a2.55 2.55 0 1 0 -5.1 0M446.6 280.3m-2.55 0a2.55 2.55 0 1 0 5.1 0a2.55 2.55 0 1 0 -5.1 0M442.1 284.8m-2.55 0a2.55 2.55 0 1 0 5.1 0a2.55 2.55 0 1 0 -5.1 0M442.8 290.1m-2.55 0a2.55 2.55 0 1 0 5.1 0a2.55 2.55 0 1 0 -5.1 0M446.6 289.3m-2.55 0a2.55 2.55 0 1 0 5.1 0a2.55 2.55 0 1 0 -5.1 0M451.1 290.8m-2.55 0a2.55 2.55 0 1 0 5.1 0a2.55 2.55 0 1 0 -5.1 0M449.6 286.3m-2.55 0a2.55 2.55 0 1 0 5.1 0a2.55 2.55 0 1 0 -5.1 0M452.6 285.6m-2.55 0a2.55 2.55 0 1 0 5.1 0a2.55 2.55 0 1 0 -5.1 0M456.4 282.5m-2.55 0a2.55 2.55 0 1 0 5.1 0a2.55 2.55 0 1 0 -5.1 0M457.9 287.1m-2.55 0a2.55 2.55 0 1 0 5.1 0a2.55 2.55 0 1 0 -5.1 0M454.9 281.0m-2.55 0a2.55 2.55 0 1 0 5.1 0a2.55 2.55 0 1 0 -5.1 0M450.4 282.5m-2.55 0a2.55 2.55 0 1 0 5.1 0a2.55 2.55 0 1 0 -5.1 0M479.1 209.0m-2.55 0a2.55 2.55 0 1 0 5.1 0a2.55 2.55 0 1 0 -5.1 0M478.3 218.0m-2.55 0a2.55 2.55 0 1 0 5.1 0a2.55 2.55 0 1 0 -5.1 0M479.8 223.3m-2.55 0a2.55 2.55 0 1 0 5.1 0a2.55 2.55 0 1 0 -5.1 0M476.8 229.0m-2.55 0a2.55 2.55 0 1 0 5.1 0a2.55 2.55 0 1 0 -5.1 0M481.3 230.5m-2.55 0a2.55 2.55 0 1 0 5.1 0a2.55 2.55 0 1 0 -5.1 0M484.0 232.0m-2.55 0a2.55 2.55 0 1 0 5.1 0a2.55 2.55 0 1 0 -5.1 0M479.1 233.5m-2.55 0a2.55 2.55 0 1 0 5.1 0a2.55 2.55 0 1 0 -5.1 0M477.5 236.5m-2.55 0a2.55 2.55 0 1 0 5.1 0a2.55 2.55 0 1 0 -5.1 0M484.3 239.5m-2.55 0a2.55 2.55 0 1 0 5.1 0a2.55 2.55 0 1 0 -5.1 0M480.9 244.8m-2.55 0a2.55 2.55 0 1 0 5.1 0a2.55 2.55 0 1 0 -5.1 0M485.8 244.1m-2.55 0a2.55 2.55 0 1 0 5.1 0a2.55 2.55 0 1 0 -5.1 0M487.4 247.1m-2.55 0a2.55 2.55 0 1 0 5.1 0a2.55 2.55 0 1 0 -5.1 0M488.1 249.0m-2.55 0a2.55 2.55 0 1 0 5.1 0a2.55 2.55 0 1 0 -5.1 0M488.9 253.1m-2.55 0a2.55 2.55 0 1 0 5.1 0a2.55 2.55 0 1 0 -5.1 0M497.9 251.6m-2.55 0a2.55 2.55 0 1 0 5.1 0a2.55 2.55 0 1 0 -5.1 0M498.7 257.3m-2.55 0a2.55 2.55 0 1 0 5.1 0a2.55 2.55 0 1 0 -5.1 0M507.7 250.1m-2.55 0a2.55 2.55 0 1 0 5.1 0a2.55 2.55 0 1 0 -5.1 0M507.0 256.9m-2.55 0a2.55 2.55 0 1 0 5.1 0a2.55 2.55 0 1 0 -5.1 0M508.5 263.7m-2.55 0a2.55 2.55 0 1 0 5.1 0a2.55 2.55 0 1 0 -5.1 0M489.6 263.3m-2.55 0a2.55 2.55 0 1 0 5.1 0a2.55 2.55 0 1 0 -5.1 0M503.2 268.2m-2.55 0a2.55 2.55 0 1 0 5.1 0a2.55 2.55 0 1 0 -5.1 0M500.2 271.2m-2.55 0a2.55 2.55 0 1 0 5.1 0a2.55 2.55 0 1 0 -5.1 0M507.7 273.5m-2.55 0a2.55 2.55 0 1 0 5.1 0a2.55 2.55 0 1 0 -5.1 0M471.5 255.4m-2.55 0a2.55 2.55 0 1 0 5.1 0a2.55 2.55 0 1 0 -5.1 0M471.5 257.6m-2.55 0a2.55 2.55 0 1 0 5.1 0a2.55 2.55 0 1 0 -5.1 0M473.0 267.5m-2.55 0a2.55 2.55 0 1 0 5.1 0a2.55 2.55 0 1 0 -5.1 0M472.3 269.7m-2.55 0a2.55 2.55 0 1 0 5.1 0a2.55 2.55 0 1 0 -5.1 0M473.8 276.5m-2.55 0a2.55 2.55 0 1 0 5.1 0a2.55 2.55 0 1 0 -5.1 0M474.5 281.0m-2.55 0a2.55 2.55 0 1 0 5.1 0a2.55 2.55 0 1 0 -5.1 0M476.0 282.5m-2.55 0a2.55 2.55 0 1 0 5.1 0a2.55 2.55 0 1 0 -5.1 0M482.8 278.0m-2.55 0a2.55 2.55 0 1 0 5.1 0a2.55 2.55 0 1 0 -5.1 0M485.1 276.5m-2.55 0a2.55 2.55 0 1 0 5.1 0a2.55 2.55 0 1 0 -5.1 0M475.3 293.9m-2.55 0a2.55 2.55 0 1 0 5.1 0a2.55 2.55 0 1 0 -5.1 0M492.6 281.0m-2.55 0a2.55 2.55 0 1 0 5.1 0a2.55 2.55 0 1 0 -5.1 0M494.2 283.3m-2.55 0a2.55 2.55 0 1 0 5.1 0a2.55 2.55 0 1 0 -5.1 0M491.1 287.8m-2.55 0a2.55 2.55 0 1 0 5.1 0a2.55 2.55 0 1 0 -5.1 0M490.4 293.1m-2.55 0a2.55 2.55 0 1 0 5.1 0a2.55 2.55 0 1 0 -5.1 0M495.7 292.4m-2.55 0a2.55 2.55 0 1 0 5.1 0a2.55 2.55 0 1 0 -5.1 0M496.4 286.3m-2.55 0a2.55 2.55 0 1 0 5.1 0a2.55 2.55 0 1 0 -5.1 0M497.9 281.8m-2.55 0a2.55 2.55 0 1 0 5.1 0a2.55 2.55 0 1 0 -5.1 0M499.4 277.3m-2.55 0a2.55 2.55 0 1 0 5.1 0a2.55 2.55 0 1 0 -5.1 0M503.2 283.3m-2.55 0a2.55 2.55 0 1 0 5.1 0a2.55 2.55 0 1 0 -5.1 0M505.5 279.5m-2.55 0a2.55 2.55 0 1 0 5.1 0a2.55 2.55 0 1 0 -5.1 0M507.7 278.0m-2.55 0a2.55 2.55 0 1 0 5.1 0a2.55 2.55 0 1 0 -5.1 0M508.5 284.8m-2.55 0a2.55 2.55 0 1 0 5.1 0a2.55 2.55 0 1 0 -5.1 0M501.7 290.8m-2.55 0a2.55 2.55 0 1 0 5.1 0a2.55 2.55 0 1 0 -5.1 0M504.7 293.1m-2.55 0a2.55 2.55 0 1 0 5.1 0a2.55 2.55 0 1 0 -5.1 0M500.9 303.3m-2.55 0a2.55 2.55 0 1 0 5.1 0a2.55 2.55 0 1 0 -5.1 0M501.7 310.1m-2.55 0a2.55 2.55 0 1 0 5.1 0a2.55 2.55 0 1 0 -5.1 0M524.2 184.0m-2.55 0a2.55 2.55 0 1 0 5.1 0a2.55 2.55 0 1 0 -5.1 0M524.8 184.9m-2.55 0a2.55 2.55 0 1 0 5.1 0a2.55 2.55 0 1 0 -5.1 0M526.2 189.3m-2.55 0a2.55 2.55 0 1 0 5.1 0a2.55 2.55 0 1 0 -5.1 0M525.5 196.7m-2.55 0a2.55 2.55 0 1 0 5.1 0a2.55 2.55 0 1 0 -5.1 0M522.5 219.9m-2.55 0a2.55 2.55 0 1 0 5.1 0a2.55 2.55 0 1 0 -5.1 0M523.2 222.9m-2.55 0a2.55 2.55 0 1 0 5.1 0a2.55 2.55 0 1 0 -5.1 0M527.0 229.3m-2.55 0a2.55 2.55 0 1 0 5.1 0a2.55 2.55 0 1 0 -5.1 0M527.7 238.4m-2.55 0a2.55 2.55 0 1 0 5.1 0a2.55 2.55 0 1 0 -5.1 0M548.1 244.8m-2.55 0a2.55 2.55 0 1 0 5.1 0a2.55 2.55 0 1 0 -5.1 0M548.1 249.7m-2.55 0a2.55 2.55 0 1 0 5.1 0a2.55 2.55 0 1 0 -5.1 0M531.5 257.3m-2.55 0a2.55 2.55 0 1 0 5.1 0a2.55 2.55 0 1 0 -5.1 0M532.6 261.4m-2.55 0a2.55 2.55 0 1 0 5.1 0a2.55 2.55 0 1 0 -5.1 0M528.5 263.7m-2.55 0a2.55 2.55 0 1 0 5.1 0a2.55 2.55 0 1 0 -5.1 0M529.6 264.8m-2.55 0a2.55 2.55 0 1 0 5.1 0a2.55 2.55 0 1 0 -5.1 0M537.5 260.3m-2.55 0a2.55 2.55 0 1 0 5.1 0a2.55 2.55 0 1 0 -5.1 0M538.7 264.8m-2.55 0a2.55 2.55 0 1 0 5.1 0a2.55 2.55 0 1 0 -5.1 0M539.4 269.7m-2.55 0a2.55 2.55 0 1 0 5.1 0a2.55 2.55 0 1 0 -5.1 0M547.0 265.9m-2.55 0a2.55 2.55 0 1 0 5.1 0a2.55 2.55 0 1 0 -5.1 0M545.5 271.2m-2.55 0a2.55 2.55 0 1 0 5.1 0a2.55 2.55 0 1 0 -5.1 0M547.7 271.2m-2.55 0a2.55 2.55 0 1 0 5.1 0a2.55 2.55 0 1 0 -5.1 0M513.0 265.2m-2.55 0a2.55 2.55 0 1 0 5.1 0a2.55 2.55 0 1 0 -5.1 0M513.8 272.7m-2.55 0a2.55 2.55 0 1 0 5.1 0a2.55 2.55 0 1 0 -5.1 0M518.3 276.4m-2.55 0a2.55 2.55 0 1 0 5.1 0a2.55 2.55 0 1 0 -5.1 0M512.3 281.3m-2.55 0a2.55 2.55 0 1 0 5.1 0a2.55 2.55 0 1 0 -5.1 0M511.5 285.1m-2.55 0a2.55 2.55 0 1 0 5.1 0a2.55 2.55 0 1 0 -5.1 0M514.5 287.4m-2.55 0a2.55 2.55 0 1 0 5.1 0a2.55 2.55 0 1 0 -5.1 0M516.8 288.9m-2.55 0a2.55 2.55 0 1 0 5.1 0a2.55 2.55 0 1 0 -5.1 0M515.3 290.4m-2.55 0a2.55 2.55 0 1 0 5.1 0a2.55 2.55 0 1 0 -5.1 0M517.5 286.6m-2.55 0a2.55 2.55 0 1 0 5.1 0a2.55 2.55 0 1 0 -5.1 0M521.3 292.6m-2.55 0a2.55 2.55 0 1 0 5.1 0a2.55 2.55 0 1 0 -5.1 0M520.9 299.8m-2.55 0a2.55 2.55 0 1 0 5.1 0a2.55 2.55 0 1 0 -5.1 0M529.6 276.0m-2.55 0a2.55 2.55 0 1 0 5.1 0a2.55 2.55 0 1 0 -5.1 0M530.4 277.5m-2.55 0a2.55 2.55 0 1 0 5.1 0a2.55 2.55 0 1 0 -5.1 0M536.4 276.4m-2.55 0a2.55 2.55 0 1 0 5.1 0a2.55 2.55 0 1 0 -5.1 0M535.7 281.3m-2.55 0a2.55 2.55 0 1 0 5.1 0a2.55 2.55 0 1 0 -5.1 0M534.9 285.8m-2.55 0a2.55 2.55 0 1 0 5.1 0a2.55 2.55 0 1 0 -5.1 0M533.4 290.4m-2.55 0a2.55 2.55 0 1 0 5.1 0a2.55 2.55 0 1 0 -5.1 0M532.6 295.7m-2.55 0a2.55 2.55 0 1 0 5.1 0a2.55 2.55 0 1 0 -5.1 0M542.5 280.6m-2.55 0a2.55 2.55 0 1 0 5.1 0a2.55 2.55 0 1 0 -5.1 0M540.9 285.1m-2.55 0a2.55 2.55 0 1 0 5.1 0a2.55 2.55 0 1 0 -5.1 0M540.2 289.6m-2.55 0a2.55 2.55 0 1 0 5.1 0a2.55 2.55 0 1 0 -5.1 0M545.5 288.9m-2.55 0a2.55 2.55 0 1 0 5.1 0a2.55 2.55 0 1 0 -5.1 0M544.0 275.3m-2.55 0a2.55 2.55 0 1 0 5.1 0a2.55 2.55 0 1 0 -5.1 0M546.2 273.0m-2.55 0a2.55 2.55 0 1 0 5.1 0a2.55 2.55 0 1 0 -5.1 0M548.9 282.8m-2.55 0a2.55 2.55 0 1 0 5.1 0a2.55 2.55 0 1 0 -5.1 0M565.5 185.0m-2.55 0a2.55 2.55 0 1 0 5.1 0a2.55 2.55 0 1 0 -5.1 0M566.2 191.0m-2.55 0a2.55 2.55 0 1 0 5.1 0a2.55 2.55 0 1 0 -5.1 0M564.7 194.4m-2.55 0a2.55 2.55 0 1 0 5.1 0a2.55 2.55 0 1 0 -5.1 0M567.4 195.6m-2.55 0a2.55 2.55 0 1 0 5.1 0a2.55 2.55 0 1 0 -5.1 0M564.0 212.9m-2.55 0a2.55 2.55 0 1 0 5.1 0a2.55 2.55 0 1 0 -5.1 0M563.6 220.1m-2.55 0a2.55 2.55 0 1 0 5.1 0a2.55 2.55 0 1 0 -5.1 0M570.0 231.8m-2.55 0a2.55 2.55 0 1 0 5.1 0a2.55 2.55 0 1 0 -5.1 0M578.7 235.6m-2.55 0a2.55 2.55 0 1 0 5.1 0a2.55 2.55 0 1 0 -5.1 0M579.4 239.3m-2.55 0a2.55 2.55 0 1 0 5.1 0a2.55 2.55 0 1 0 -5.1 0M587.4 228.4m-2.55 0a2.55 2.55 0 1 0 5.1 0a2.55 2.55 0 1 0 -5.1 0M587.7 231.4m-2.55 0a2.55 2.55 0 1 0 5.1 0a2.55 2.55 0 1 0 -5.1 0M586.2 234.8m-2.55 0a2.55 2.55 0 1 0 5.1 0a2.55 2.55 0 1 0 -5.1 0M562.5 240.1m-2.55 0a2.55 2.55 0 1 0 5.1 0a2.55 2.55 0 1 0 -5.1 0M569.2 242.7m-2.55 0a2.55 2.55 0 1 0 5.1 0a2.55 2.55 0 1 0 -5.1 0M584.0 245.8m-2.55 0a2.55 2.55 0 1 0 5.1 0a2.55 2.55 0 1 0 -5.1 0M585.5 251.4m-2.55 0a2.55 2.55 0 1 0 5.1 0a2.55 2.55 0 1 0 -5.1 0M588.5 254.8m-2.55 0a2.55 2.55 0 1 0 5.1 0a2.55 2.55 0 1 0 -5.1 0M561.3 251.8m-2.55 0a2.55 2.55 0 1 0 5.1 0a2.55 2.55 0 1 0 -5.1 0M559.8 254.8m-2.55 0a2.55 2.55 0 1 0 5.1 0a2.55 2.55 0 1 0 -5.1 0M562.1 254.1m-2.55 0a2.55 2.55 0 1 0 5.1 0a2.55 2.55 0 1 0 -5.1 0M568.1 249.5m-2.55 0a2.55 2.55 0 1 0 5.1 0a2.55 2.55 0 1 0 -5.1 0M571.1 249.5m-2.55 0a2.55 2.55 0 1 0 5.1 0a2.55 2.55 0 1 0 -5.1 0M567.4 254.8m-2.55 0a2.55 2.55 0 1 0 5.1 0a2.55 2.55 0 1 0 -5.1 0M570.4 252.5m-2.55 0a2.55 2.55 0 1 0 5.1 0a2.55 2.55 0 1 0 -5.1 0M573.4 254.1m-2.55 0a2.55 2.55 0 1 0 5.1 0a2.55 2.55 0 1 0 -5.1 0M575.7 256.3m-2.55 0a2.55 2.55 0 1 0 5.1 0a2.55 2.55 0 1 0 -5.1 0M577.9 254.8m-2.55 0a2.55 2.55 0 1 0 5.1 0a2.55 2.55 0 1 0 -5.1 0M574.2 258.6m-2.55 0a2.55 2.55 0 1 0 5.1 0a2.55 2.55 0 1 0 -5.1 0M577.2 260.1m-2.55 0a2.55 2.55 0 1 0 5.1 0a2.55 2.55 0 1 0 -5.1 0M580.2 261.6m-2.55 0a2.55 2.55 0 1 0 5.1 0a2.55 2.55 0 1 0 -5.1 0M581.7 260.1m-2.55 0a2.55 2.55 0 1 0 5.1 0a2.55 2.55 0 1 0 -5.1 0M578.7 263.9m-2.55 0a2.55 2.55 0 1 0 5.1 0a2.55 2.55 0 1 0 -5.1 0M575.7 261.6m-2.55 0a2.55 2.55 0 1 0 5.1 0a2.55 2.55 0 1 0 -5.1 0M580.9 266.1m-2.55 0a2.55 2.55 0 1 0 5.1 0a2.55 2.55 0 1 0 -5.1 0M582.5 269.2m-2.55 0a2.55 2.55 0 1 0 5.1 0a2.55 2.55 0 1 0 -5.1 0M584.7 271.4m-2.55 0a2.55 2.55 0 1 0 5.1 0a2.55 2.55 0 1 0 -5.1 0M585.5 269.9m-2.55 0a2.55 2.55 0 1 0 5.1 0a2.55 2.55 0 1 0 -5.1 0M587.7 267.6m-2.55 0a2.55 2.55 0 1 0 5.1 0a2.55 2.55 0 1 0 -5.1 0M589.2 263.9m-2.55 0a2.55 2.55 0 1 0 5.1 0a2.55 2.55 0 1 0 -5.1 0M574.9 267.6m-2.55 0a2.55 2.55 0 1 0 5.1 0a2.55 2.55 0 1 0 -5.1 0M559.1 261.6m-2.55 0a2.55 2.55 0 1 0 5.1 0a2.55 2.55 0 1 0 -5.1 0M560.6 265.4m-2.55 0a2.55 2.55 0 1 0 5.1 0a2.55 2.55 0 1 0 -5.1 0M554.5 266.1m-2.55 0a2.55 2.55 0 1 0 5.1 0a2.55 2.55 0 1 0 -5.1 0M552.3 265.4m-2.55 0a2.55 2.55 0 1 0 5.1 0a2.55 2.55 0 1 0 -5.1 0M556.8 269.9m-2.55 0a2.55 2.55 0 1 0 5.1 0a2.55 2.55 0 1 0 -5.1 0M558.3 272.9m-2.55 0a2.55 2.55 0 1 0 5.1 0a2.55 2.55 0 1 0 -5.1 0M553.0 270.7m-2.55 0a2.55 2.55 0 1 0 5.1 0a2.55 2.55 0 1 0 -5.1 0M551.5 273.7m-2.55 0a2.55 2.55 0 1 0 5.1 0a2.55 2.55 0 1 0 -5.1 0M557.5 278.2m-2.55 0a2.55 2.55 0 1 0 5.1 0a2.55 2.55 0 1 0 -5.1 0M552.3 277.5m-2.55 0a2.55 2.55 0 1 0 5.1 0a2.55 2.55 0 1 0 -5.1 0M551.5 281.2m-2.55 0a2.55 2.55 0 1 0 5.1 0a2.55 2.55 0 1 0 -5.1 0M554.2 289.2m-2.55 0a2.55 2.55 0 1 0 5.1 0a2.55 2.55 0 1 0 -5.1 0M519.2 317.7m-2.55 0a2.55 2.55 0 1 0 5.1 0a2.55 2.55 0 1 0 -5.1 0M520.8 318.9m-2.55 0a2.55 2.55 0 1 0 5.1 0a2.55 2.55 0 1 0 -5.1 0M627.0 239.7m-2.55 0a2.55 2.55 0 1 0 5.1 0a2.55 2.55 0 1 0 -5.1 0M597.2 248.4m-2.55 0a2.55 2.55 0 1 0 5.1 0a2.55 2.55 0 1 0 -5.1 0M599.1 254.8m-2.55 0a2.55 2.55 0 1 0 5.1 0a2.55 2.55 0 1 0 -5.1 0M606.6 253.7m-2.55 0a2.55 2.55 0 1 0 5.1 0a2.55 2.55 0 1 0 -5.1 0M611.4 254.9m-2.55 0a2.55 2.55 0 1 0 5.1 0a2.55 2.55 0 1 0 -5.1 0M608.1 254.1m-2.55 0a2.55 2.55 0 1 0 5.1 0a2.55 2.55 0 1 0 -5.1 0M616.4 250.3m-2.55 0a2.55 2.55 0 1 0 5.1 0a2.55 2.55 0 1 0 -5.1 0M617.2 251.8m-2.55 0a2.55 2.55 0 1 0 5.1 0a2.55 2.55 0 1 0 -5.1 0M626.2 252.5m-2.55 0a2.55 2.55 0 1 0 5.1 0a2.55 2.55 0 1 0 -5.1 0M598.3 259.3m-2.55 0a2.55 2.55 0 1 0 5.1 0a2.55 2.55 0 1 0 -5.1 0M599.8 262.4m-2.55 0a2.55 2.55 0 1 0 5.1 0a2.55 2.55 0 1 0 -5.1 0M596.0 261.6m-2.55 0a2.55 2.55 0 1 0 5.1 0a2.55 2.55 0 1 0 -5.1 0M593.0 263.1m-2.55 0a2.55 2.55 0 1 0 5.1 0a2.55 2.55 0 1 0 -5.1 0M591.5 265.4m-2.55 0a2.55 2.55 0 1 0 5.1 0a2.55 2.55 0 1 0 -5.1 0M594.5 266.9m-2.55 0a2.55 2.55 0 1 0 5.1 0a2.55 2.55 0 1 0 -5.1 0M596.8 268.4m-2.55 0a2.55 2.55 0 1 0 5.1 0a2.55 2.55 0 1 0 -5.1 0M591.5 269.9m-2.55 0a2.55 2.55 0 1 0 5.1 0a2.55 2.55 0 1 0 -5.1 0M607.4 267.6m-2.55 0a2.55 2.55 0 1 0 5.1 0a2.55 2.55 0 1 0 -5.1 0M600.6 270.7m-2.55 0a2.55 2.55 0 1 0 5.1 0a2.55 2.55 0 1 0 -5.1 0M601.3 273.7m-2.55 0a2.55 2.55 0 1 0 5.1 0a2.55 2.55 0 1 0 -5.1 0M602.8 276.7m-2.55 0a2.55 2.55 0 1 0 5.1 0a2.55 2.55 0 1 0 -5.1 0M605.1 275.2m-2.55 0a2.55 2.55 0 1 0 5.1 0a2.55 2.55 0 1 0 -5.1 0M607.4 277.5m-2.55 0a2.55 2.55 0 1 0 5.1 0a2.55 2.55 0 1 0 -5.1 0M609.6 275.9m-2.55 0a2.55 2.55 0 1 0 5.1 0a2.55 2.55 0 1 0 -5.1 0M611.1 273.7m-2.55 0a2.55 2.55 0 1 0 5.1 0a2.55 2.55 0 1 0 -5.1 0M613.4 271.4m-2.55 0a2.55 2.55 0 1 0 5.1 0a2.55 2.55 0 1 0 -5.1 0M614.9 269.2m-2.55 0a2.55 2.55 0 1 0 5.1 0a2.55 2.55 0 1 0 -5.1 0M612.6 279.7m-2.55 0a2.55 2.55 0 1 0 5.1 0a2.55 2.55 0 1 0 -5.1 0M608.9 280.5m-2.55 0a2.55 2.55 0 1 0 5.1 0a2.55 2.55 0 1 0 -5.1 0M605.1 280.5m-2.55 0a2.55 2.55 0 1 0 5.1 0a2.55 2.55 0 1 0 -5.1 0M602.1 279.7m-2.55 0a2.55 2.55 0 1 0 5.1 0a2.55 2.55 0 1 0 -5.1 0M617.2 266.1m-2.55 0a2.55 2.55 0 1 0 5.1 0a2.55 2.55 0 1 0 -5.1 0M619.4 263.9m-2.55 0a2.55 2.55 0 1 0 5.1 0a2.55 2.55 0 1 0 -5.1 0M620.9 260.8m-2.55 0a2.55 2.55 0 1 0 5.1 0a2.55 2.55 0 1 0 -5.1 0M622.5 257.1m-2.55 0a2.55 2.55 0 1 0 5.1 0a2.55 2.55 0 1 0 -5.1 0M624.0 259.3m-2.55 0a2.55 2.55 0 1 0 5.1 0a2.55 2.55 0 1 0 -5.1 0M625.5 261.6m-2.55 0a2.55 2.55 0 1 0 5.1 0a2.55 2.55 0 1 0 -5.1 0M627.7 259.3m-2.55 0a2.55 2.55 0 1 0 5.1 0a2.55 2.55 0 1 0 -5.1 0M626.2 265.4m-2.55 0a2.55 2.55 0 1 0 5.1 0a2.55 2.55 0 1 0 -5.1 0M623.2 267.6m-2.55 0a2.55 2.55 0 1 0 5.1 0a2.55 2.55 0 1 0 -5.1 0M620.2 269.2m-2.55 0a2.55 2.55 0 1 0 5.1 0a2.55 2.55 0 1 0 -5.1 0M621.7 272.9m-2.55 0a2.55 2.55 0 1 0 5.1 0a2.55 2.55 0 1 0 -5.1 0M620.2 275.2m-2.55 0a2.55 2.55 0 1 0 5.1 0a2.55 2.55 0 1 0 -5.1 0M625.5 272.2m-2.55 0a2.55 2.55 0 1 0 5.1 0a2.55 2.55 0 1 0 -5.1 0M627.7 275.2m-2.55 0a2.55 2.55 0 1 0 5.1 0a2.55 2.55 0 1 0 -5.1 0M628.5 269.9m-2.55 0a2.55 2.55 0 1 0 5.1 0a2.55 2.55 0 1 0 -5.1 0M616.4 274.4m-2.55 0a2.55 2.55 0 1 0 5.1 0a2.55 2.55 0 1 0 -5.1 0M593.8 282.7m-2.55 0a2.55 2.55 0 1 0 5.1 0a2.55 2.55 0 1 0 -5.1 0M614.2 277.5m-2.55 0a2.55 2.55 0 1 0 5.1 0a2.55 2.55 0 1 0 -5.1 0M611.1 282.7m-2.55 0a2.55 2.55 0 1 0 5.1 0a2.55 2.55 0 1 0 -5.1 0M605.1 288.4m-2.55 0a2.55 2.55 0 1 0 5.1 0a2.55 2.55 0 1 0 -5.1 0M665.8 219.5m-2.55 0a2.55 2.55 0 1 0 5.1 0a2.55 2.55 0 1 0 -5.1 0M665.5 221.0m-2.55 0a2.55 2.55 0 1 0 5.1 0a2.55 2.55 0 1 0 -5.1 0M664.7 223.3m-2.55 0a2.55 2.55 0 1 0 5.1 0a2.55 2.55 0 1 0 -5.1 0M649.6 229.3m-2.55 0a2.55 2.55 0 1 0 5.1 0a2.55 2.55 0 1 0 -5.1 0M650.4 232.0m-2.55 0a2.55 2.55 0 1 0 5.1 0a2.55 2.55 0 1 0 -5.1 0M633.0 246.7m-2.55 0a2.55 2.55 0 1 0 5.1 0a2.55 2.55 0 1 0 -5.1 0M663.2 249.0m-2.55 0a2.55 2.55 0 1 0 5.1 0a2.55 2.55 0 1 0 -5.1 0M664.0 254.2m-2.55 0a2.55 2.55 0 1 0 5.1 0a2.55 2.55 0 1 0 -5.1 0M639.8 259.9m-2.55 0a2.55 2.55 0 1 0 5.1 0a2.55 2.55 0 1 0 -5.1 0M639.1 262.2m-2.55 0a2.55 2.55 0 1 0 5.1 0a2.55 2.55 0 1 0 -5.1 0M638.3 264.4m-2.55 0a2.55 2.55 0 1 0 5.1 0a2.55 2.55 0 1 0 -5.1 0M651.9 260.3m-2.55 0a2.55 2.55 0 1 0 5.1 0a2.55 2.55 0 1 0 -5.1 0M646.6 265.9m-2.55 0a2.55 2.55 0 1 0 5.1 0a2.55 2.55 0 1 0 -5.1 0M648.1 266.7m-2.55 0a2.55 2.55 0 1 0 5.1 0a2.55 2.55 0 1 0 -5.1 0M645.1 268.2m-2.55 0a2.55 2.55 0 1 0 5.1 0a2.55 2.55 0 1 0 -5.1 0M657.2 265.9m-2.55 0a2.55 2.55 0 1 0 5.1 0a2.55 2.55 0 1 0 -5.1 0M661.7 264.4m-2.55 0a2.55 2.55 0 1 0 5.1 0a2.55 2.55 0 1 0 -5.1 0M632.3 264.4m-2.55 0a2.55 2.55 0 1 0 5.1 0a2.55 2.55 0 1 0 -5.1 0M631.5 267.5m-2.55 0a2.55 2.55 0 1 0 5.1 0a2.55 2.55 0 1 0 -5.1 0M633.8 269.7m-2.55 0a2.55 2.55 0 1 0 5.1 0a2.55 2.55 0 1 0 -5.1 0M636.0 271.2m-2.55 0a2.55 2.55 0 1 0 5.1 0a2.55 2.55 0 1 0 -5.1 0M633.0 272.7m-2.55 0a2.55 2.55 0 1 0 5.1 0a2.55 2.55 0 1 0 -5.1 0M641.3 269.7m-2.55 0a2.55 2.55 0 1 0 5.1 0a2.55 2.55 0 1 0 -5.1 0M643.6 271.2m-2.55 0a2.55 2.55 0 1 0 5.1 0a2.55 2.55 0 1 0 -5.1 0M639.8 272.7m-2.55 0a2.55 2.55 0 1 0 5.1 0a2.55 2.55 0 1 0 -5.1 0M652.6 271.2m-2.55 0a2.55 2.55 0 1 0 5.1 0a2.55 2.55 0 1 0 -5.1 0M651.1 272.7m-2.55 0a2.55 2.55 0 1 0 5.1 0a2.55 2.55 0 1 0 -5.1 0M660.2 272.7m-2.55 0a2.55 2.55 0 1 0 5.1 0a2.55 2.55 0 1 0 -5.1 0M663.2 273.5m-2.55 0a2.55 2.55 0 1 0 5.1 0a2.55 2.55 0 1 0 -5.1 0M637.5 276.3m-2.55 0a2.55 2.55 0 1 0 5.1 0a2.55 2.55 0 1 0 -5.1 0M643.6 277.8m-2.55 0a2.55 2.55 0 1 0 5.1 0a2.55 2.55 0 1 0 -5.1 0M647.4 277.1m-2.55 0a2.55 2.55 0 1 0 5.1 0a2.55 2.55 0 1 0 -5.1 0M653.4 279.3m-2.55 0a2.55 2.55 0 1 0 5.1 0a2.55 2.55 0 1 0 -5.1 0M654.2 277.8m-2.55 0a2.55 2.55 0 1 0 5.1 0a2.55 2.55 0 1 0 -5.1 0M656.4 277.1m-2.55 0a2.55 2.55 0 1 0 5.1 0a2.55 2.55 0 1 0 -5.1 0M661.7 279.3m-2.55 0a2.55 2.55 0 1 0 5.1 0a2.55 2.55 0 1 0 -5.1 0M663.2 275.6m-2.55 0a2.55 2.55 0 1 0 5.1 0a2.55 2.55 0 1 0 -5.1 0M658.7 281.6m-2.55 0a2.55 2.55 0 1 0 5.1 0a2.55 2.55 0 1 0 -5.1 0M660.2 284.6m-2.55 0a2.55 2.55 0 1 0 5.1 0a2.55 2.55 0 1 0 -5.1 0M659.4 286.9m-2.55 0a2.55 2.55 0 1 0 5.1 0a2.55 2.55 0 1 0 -5.1 0M655.7 290.7m-2.55 0a2.55 2.55 0 1 0 5.1 0a2.55 2.55 0 1 0 -5.1 0M657.9 289.2m-2.55 0a2.55 2.55 0 1 0 5.1 0a2.55 2.55 0 1 0 -5.1 0M656.4 291.4m-2.55 0a2.55 2.55 0 1 0 5.1 0a2.55 2.55 0 1 0 -5.1 0M640.6 283.1m-2.55 0a2.55 2.55 0 1 0 5.1 0a2.55 2.55 0 1 0 -5.1 0M641.3 285.4m-2.55 0a2.55 2.55 0 1 0 5.1 0a2.55 2.55 0 1 0 -5.1 0M642.1 287.6m-2.55 0a2.55 2.55 0 1 0 5.1 0a2.55 2.55 0 1 0 -5.1 0M648.9 288.0m-2.55 0a2.55 2.55 0 1 0 5.1 0a2.55 2.55 0 1 0 -5.1 0M636.4 289.9m-2.55 0a2.55 2.55 0 1 0 5.1 0a2.55 2.55 0 1 0 -5.1 0M636.0 296.3m-2.55 0a2.55 2.55 0 1 0 5.1 0a2.55 2.55 0 1 0 -5.1 0M666.5 220.0m-2.55 0a2.55 2.55 0 1 0 5.1 0a2.55 2.55 0 1 0 -5.1 0M108.0 262.0m-2.55 0a2.55 2.55 0 1 0 5.1 0a2.55 2.55 0 1 0 -5.1 0M111.0 264.5m-2.55 0a2.55 2.55 0 1 0 5.1 0a2.55 2.55 0 1 0 -5.1 0M106.0 266.5m-2.55 0a2.55 2.55 0 1 0 5.1 0a2.55 2.55 0 1 0 -5.1 0M113.0 268.0m-2.55 0a2.55 2.55 0 1 0 5.1 0a2.55 2.55 0 1 0 -5.1 0M109.5 269.5m-2.55 0a2.55 2.55 0 1 0 5.1 0a2.55 2.55 0 1 0 -5.1 0M104.0 263.0m-2.55 0a2.55 2.55 0 1 0 5.1 0a2.55 2.55 0 1 0 -5.1 0M142.6 270.3m-2.55 0a2.55 2.55 0 1 0 5.1 0a2.55 2.55 0 1 0 -5.1 0M147.2 271.8m-2.55 0a2.55 2.55 0 1 0 5.1 0a2.55 2.55 0 1 0 -5.1 0M150.2 268.8m-2.55 0a2.55 2.55 0 1 0 5.1 0a2.55 2.55 0 1 0 -5.1 0M138.1 274.8m-2.55 0a2.55 2.55 0 1 0 5.1 0a2.55 2.55 0 1 0 -5.1 0M145.7 277.8m-2.55 0a2.55 2.55 0 1 0 5.1 0a2.55 2.55 0 1 0 -5.1 0M151.7 276.3m-2.55 0a2.55 2.55 0 1 0 5.1 0a2.55 2.55 0 1 0 -5.1 0M139.6 280.8m-2.55 0a2.55 2.55 0 1 0 5.1 0a2.55 2.55 0 1 0 -5.1 0M133.6 285.4m-2.55 0a2.55 2.55 0 1 0 5.1 0a2.55 2.55 0 1 0 -5.1 0M147.2 282.4m-2.55 0a2.55 2.55 0 1 0 5.1 0a2.55 2.55 0 1 0 -5.1 0M165.3 243.1m-2.55 0a2.55 2.55 0 1 0 5.1 0a2.55 2.55 0 1 0 -5.1 0M172.8 246.1m-2.55 0a2.55 2.55 0 1 0 5.1 0a2.55 2.55 0 1 0 -5.1 0M180.4 244.6m-2.55 0a2.55 2.55 0 1 0 5.1 0a2.55 2.55 0 1 0 -5.1 0M168.3 250.7m-2.55 0a2.55 2.55 0 1 0 5.1 0a2.55 2.55 0 1 0 -5.1 0M177.4 249.2m-2.55 0a2.55 2.55 0 1 0 5.1 0a2.55 2.55 0 1 0 -5.1 0M163.8 247.6m-2.55 0a2.55 2.55 0 1 0 5.1 0a2.55 2.55 0 1 0 -5.1 0M205.8 285.7m-2.55 0a2.55 2.55 0 1 0 5.1 0a2.55 2.55 0 1 0 -5.1 0M230.0 271.3m-2.55 0a2.55 2.55 0 1 0 5.1 0a2.55 2.55 0 1 0 -5.1 0M232.3 272.8m-2.55 0a2.55 2.55 0 1 0 5.1 0a2.55 2.55 0 1 0 -5.1 0M228.5 275.1m-2.55 0a2.55 2.55 0 1 0 5.1 0a2.55 2.55 0 1 0 -5.1 0M233.8 275.8m-2.55 0a2.55 2.55 0 1 0 5.1 0a2.55 2.55 0 1 0 -5.1 0M208.9 258.5m-2.55 0a2.55 2.55 0 1 0 5.1 0a2.55 2.55 0 1 0 -5.1 0M211.1 260.0m-2.55 0a2.55 2.55 0 1 0 5.1 0a2.55 2.55 0 1 0 -5.1 0M262.5 265.3m-2.55 0a2.55 2.55 0 1 0 5.1 0a2.55 2.55 0 1 0 -5.1 0M260.2 272.8m-2.55 0a2.55 2.55 0 1 0 5.1 0a2.55 2.55 0 1 0 -5.1 0M257.2 277.4m-2.55 0a2.55 2.55 0 1 0 5.1 0a2.55 2.55 0 1 0 -5.1 0M269.5 251.2m-2.55 0a2.55 2.55 0 1 0 5.1 0a2.55 2.55 0 1 0 -5.1 0M271.8 245.9m-2.55 0a2.55 2.55 0 1 0 5.1 0a2.55 2.55 0 1 0 -5.1 0M280.1 258.0m-2.55 0a2.55 2.55 0 1 0 5.1 0a2.55 2.55 0 1 0 -5.1 0M283.9 257.3m-2.55 0a2.55 2.55 0 1 0 5.1 0a2.55 2.55 0 1 0 -5.1 0M308.0 237.6m-2.55 0a2.55 2.55 0 1 0 5.1 0a2.55 2.55 0 1 0 -5.1 0M329.9 275.4m-2.55 0a2.55 2.55 0 1 0 5.1 0a2.55 2.55 0 1 0 -5.1 0M332.9 278.4m-2.55 0a2.55 2.55 0 1 0 5.1 0a2.55 2.55 0 1 0 -5.1 0M335.9 281.4m-2.55 0a2.55 2.55 0 1 0 5.1 0a2.55 2.55 0 1 0 -5.1 0M340.5 282.9m-2.55 0a2.55 2.55 0 1 0 5.1 0a2.55 2.55 0 1 0 -5.1 0M343.5 281.4m-2.55 0a2.55 2.55 0 1 0 5.1 0a2.55 2.55 0 1 0 -5.1 0M393.9 241.9m-2.55 0a2.55 2.55 0 1 0 5.1 0a2.55 2.55 0 1 0 -5.1 0M370.2 271.8m-2.55 0a2.55 2.55 0 1 0 5.1 0a2.55 2.55 0 1 0 -5.1 0M376.2 276.3m-2.55 0a2.55 2.55 0 1 0 5.1 0a2.55 2.55 0 1 0 -5.1 0M380.8 280.8m-2.55 0a2.55 2.55 0 1 0 5.1 0a2.55 2.55 0 1 0 -5.1 0M385.3 283.9m-2.55 0a2.55 2.55 0 1 0 5.1 0a2.55 2.55 0 1 0 -5.1 0M364.2 270.3m-2.55 0a2.55 2.55 0 1 0 5.1 0a2.55 2.55 0 1 0 -5.1 0M469.2 233.8m-2.55 0a2.55 2.55 0 1 0 5.1 0a2.55 2.55 0 1 0 -5.1 0M470.4 240.1m-2.55 0a2.55 2.55 0 1 0 5.1 0a2.55 2.55 0 1 0 -5.1 0M494.3 284.7m-2.55 0a2.55 2.55 0 1 0 5.1 0a2.55 2.55 0 1 0 -5.1 0M495.8 288.5m-2.55 0a2.55 2.55 0 1 0 5.1 0a2.55 2.55 0 1 0 -5.1 0M540.4 280.2m-2.55 0a2.55 2.55 0 1 0 5.1 0a2.55 2.55 0 1 0 -5.1 0M538.9 274.2m-2.55 0a2.55 2.55 0 1 0 5.1 0a2.55 2.55 0 1 0 -5.1 0M543.4 275.7m-2.55 0a2.55 2.55 0 1 0 5.1 0a2.55 2.55 0 1 0 -5.1 0M597.1 249.3m-2.55 0a2.55 2.55 0 1 0 5.1 0a2.55 2.55 0 1 0 -5.1 0M126.9 284.2m-2.55 0a2.55 2.55 0 1 0 5.1 0a2.55 2.55 0 1 0 -5.1 0M131.0 287.4m-2.55 0a2.55 2.55 0 1 0 5.1 0a2.55 2.55 0 1 0 -5.1 0M135.2 282.2m-2.55 0a2.55 2.55 0 1 0 5.1 0a2.55 2.55 0 1 0 -5.1 0M269.6 247.9m-2.55 0a2.55 2.55 0 1 0 5.1 0a2.55 2.55 0 1 0 -5.1 0M267.6 250.0m-2.55 0a2.55 2.55 0 1 0 5.1 0a2.55 2.55 0 1 0 -5.1 0M321.3 245.9m-2.55 0a2.55 2.55 0 1 0 5.1 0a2.55 2.55 0 1 0 -5.1 0M336.5 269.3m-2.55 0a2.55 2.55 0 1 0 5.1 0a2.55 2.55 0 1 0 -5.1 0M444.6 286.3m-2.55 0a2.55 2.55 0 1 0 5.1 0a2.55 2.55 0 1 0 -5.1 0M449.8 284.3m-2.55 0a2.55 2.55 0 1 0 5.1 0a2.55 2.55 0 1 0 -5.1 0M455.0 287.4m-2.55 0a2.55 2.55 0 1 0 5.1 0a2.55 2.55 0 1 0 -5.1 0" stroke="#0000ff" stroke-width="0.95" fill="none"/>
<path d="M462.5 168.9m-2.55 0a2.55 2.55 0 1 0 5.1 0a2.55 2.55 0 1 0 -5.1 0M461.8 174.0m-2.55 0a2.55 2.55 0 1 0 5.1 0a2.55 2.55 0 1 0 -5.1 0" stroke="#ff0000" stroke-width="0.95" fill="none"/>
</svg></body></html>
